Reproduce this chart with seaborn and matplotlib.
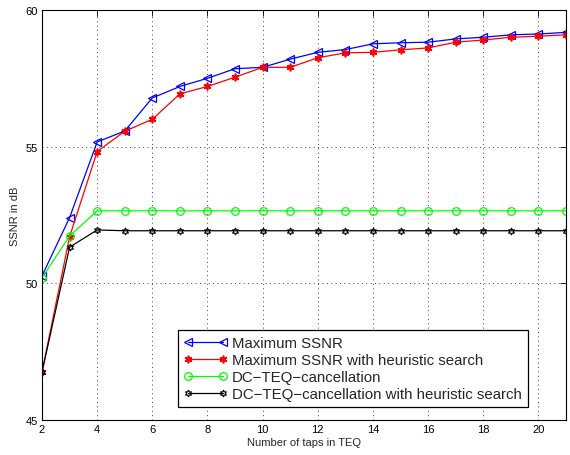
import numpy as np
import pandas as pd
import seaborn as sns
import matplotlib.pyplot as plt

# taps in TEQ
taps = list(range(2, 22))

max_ssnr = [50.27, 52.4, 55.17, 55.57, 56.78, 57.2, 57.5, 57.85, 57.9, 58.2,
            58.45, 58.55, 58.76, 58.8, 58.82, 58.94, 59.0, 59.09, 59.12, 59.18]
max_ssnr_heur = [46.75, 51.7, 54.82, 55.56, 56.0, 56.93, 57.2, 57.54, 57.9, 57.9,
                 58.25, 58.43, 58.45, 58.54, 58.61, 58.82, 58.9, 59.0, 59.04, 59.09]
dc_teq = [50.2, 51.73] + [52.65] * 18
dc_teq_heur = [46.75, 51.32, 51.95] + [51.92] * 17

labels = ["Maximum SSNR",
          "Maximum SSNR with heuristic search",
          "DC\u2212TEQ\u2212cancellation",
          "DC\u2212TEQ\u2212cancellation with heuristic search"]

sns.set_style("white")
plt.rcParams['font.family'] = ['Liberation Sans', 'DejaVu Sans']

fig = plt.figure(figsize=(5.7, 4.56), dpi=100)
ax = fig.add_axes([0.0737, 0.077, 0.9193, 0.899])

common = dict(linewidth=0.9, ax=ax)
sns.lineplot(x=taps, y=max_ssnr, color='blue', marker='<', markersize=5.5,
             markerfacecolor='none', markeredgecolor='blue', markeredgewidth=0.9,
             label=labels[0], **common)
sns.lineplot(x=taps, y=max_ssnr_heur, color='red', marker=(6, 2, 0), markersize=5.5,
             markerfacecolor='red', markeredgecolor='red', markeredgewidth=1.2,
             label=labels[1], **common)
sns.lineplot(x=taps, y=dc_teq, color=(0, 1, 0), marker='o', markersize=5.5,
             markerfacecolor='none', markeredgecolor=(0, 1, 0), markeredgewidth=0.9,
             label=labels[2], **common)
sns.lineplot(x=taps, y=dc_teq_heur, color='black', marker=(6, 1, 0), markersize=5,
             markerfacecolor='none', markeredgecolor='black', markeredgewidth=0.8,
             label=labels[3], **common)

ax.set_xlim(2, 21)
ax.set_ylim(45, 60)
ax.set_xticks(range(2, 21, 2))
ax.set_yticks([45, 50, 55, 60])
ax.grid(True, linestyle=(0, (1, 3.5)), color='#444444', linewidth=0.7)
ax.tick_params(direction='in', top=True, right=True, length=4, width=0.6,
               labelsize=8, colors='black', pad=3)
for s in ax.spines.values():
    s.set_color('black')
    s.set_linewidth(0.8)

ax.set_xlabel("Number of taps in TEQ", fontsize=8, labelpad=2)
ax.set_ylabel("SSNR in dB", fontsize=8, labelpad=4)

leg = ax.legend(loc='lower right', bbox_to_anchor=(0.927, 0.032), numpoints=2,
                handlelength=2.9, fontsize=10.8, fancybox=False, framealpha=1,
                edgecolor='black', borderpad=0.4, labelspacing=0.2,
                handletextpad=0.3, borderaxespad=0)
leg.get_frame().set_linewidth(0.9)

fig.savefig("out.png", dpi=100)
